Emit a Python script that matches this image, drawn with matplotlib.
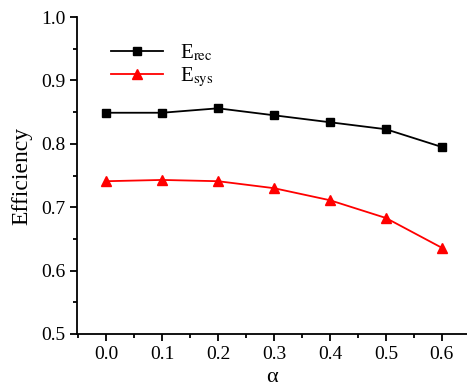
import matplotlib
matplotlib.use("Agg")
import matplotlib.pyplot as plt
from matplotlib.ticker import MultipleLocator

plt.rcParams["font.family"] = "Liberation Serif"
plt.rcParams["mathtext.fontset"] = "stix"

# data
alpha = [0.0, 0.1, 0.2, 0.3, 0.4, 0.5, 0.6]
e_rec = [0.849, 0.849, 0.856, 0.845, 0.834, 0.823, 0.795]
e_sys = [0.741, 0.743, 0.741, 0.730, 0.711, 0.683, 0.636]

fig = plt.figure(figsize=(4.67, 3.87), dpi=100)
ax = fig.add_axes([0.165, 0.137, 0.835, 0.819])

ax.plot(alpha, e_rec, "-s", color="black", lw=1.3, ms=6, label=r"E$_{\mathrm{rec}}$")
ax.plot(alpha, e_sys, "-^", color="red", lw=1.3, ms=7, label=r"E$_{\mathrm{sys}}$")

ax.set_xlim(-0.052, 0.645)
ax.set_ylim(0.5, 1.0)
ax.xaxis.set_major_locator(MultipleLocator(0.1))
ax.xaxis.set_minor_locator(MultipleLocator(0.05))
ax.yaxis.set_major_locator(MultipleLocator(0.1))
ax.yaxis.set_minor_locator(MultipleLocator(0.05))
ax.tick_params(which="major", direction="out", length=5, width=1.3, labelsize=14)
ax.tick_params(which="minor", direction="out", length=3, width=1.3)

for side in ["top", "right"]:
    ax.spines[side].set_visible(False)
for side in ["left", "bottom"]:
    ax.spines[side].set_linewidth(1.3)

ax.set_xlabel("α", fontsize=16)
ax.set_ylabel("Efficiency", fontsize=17, labelpad=6)

ax.legend(loc="upper left", bbox_to_anchor=(0.04, 0.98), frameon=False,
          fontsize=15, handlelength=2.5, labelspacing=0.15)

fig.savefig("out.png", dpi=100)
